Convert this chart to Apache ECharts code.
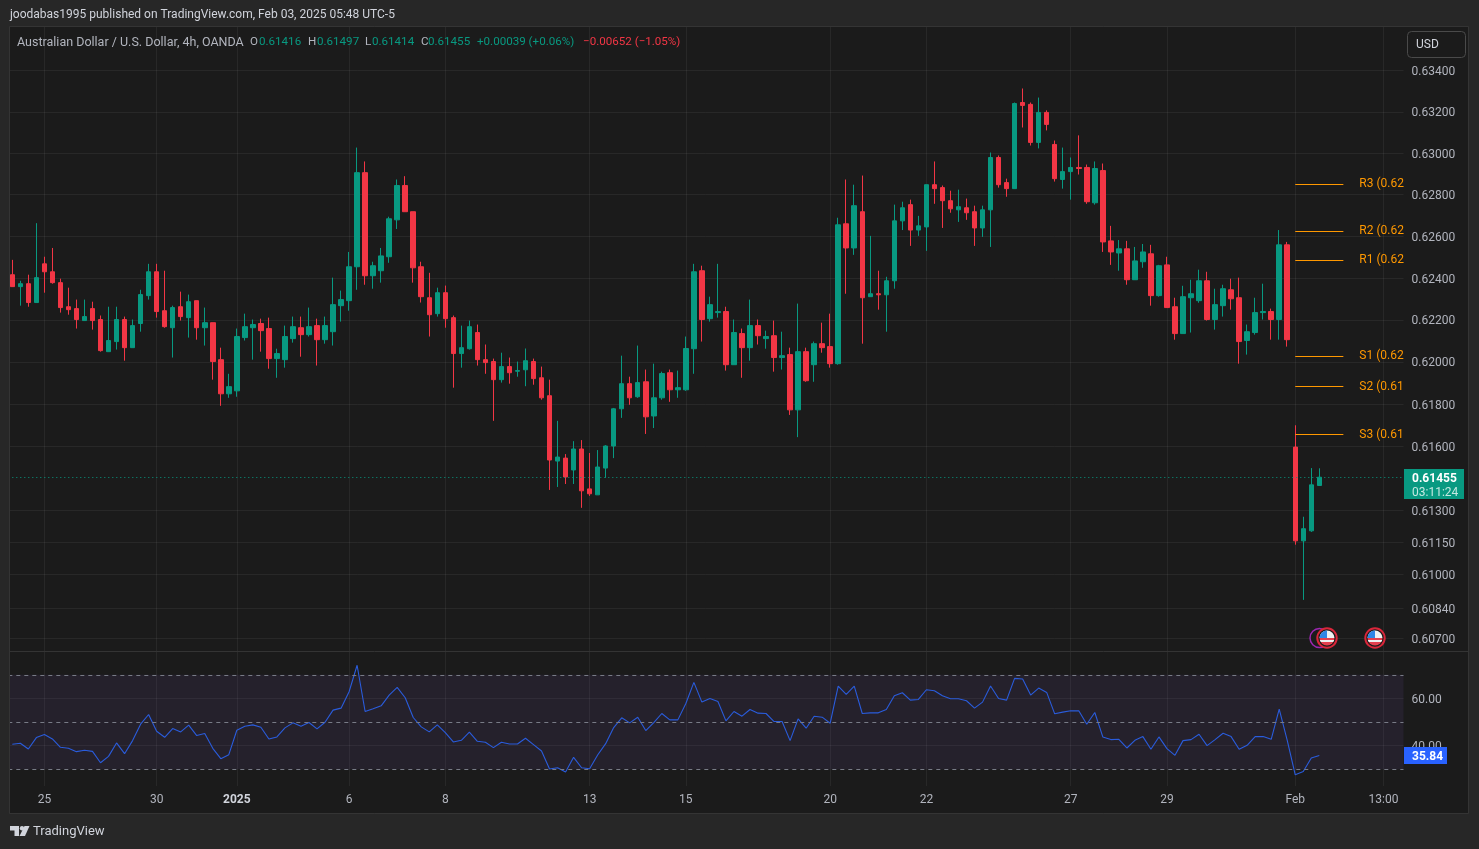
<!DOCTYPE html>
<html>
<head>
<meta charset="utf-8">
<title>AUD/USD 4h</title>
<script src="https://cdn.jsdelivr.net/npm/echarts@6/dist/echarts.min.js"></script>
<style>
html,body{margin:0;padding:0;background:#272727;overflow:hidden}
#chart{width:1479px;height:849px}
</style>
</head>
<body>
<div id="chart"></div>
<script>
// candles
var openPrices = [.62416,.62359,.62373,.62283,.62468,.62430,.62378,.62263,.62254,.62197,.62254,.62202,.62049,.62097,.62202,.62068,.62183,.62316,.62430,.62244,.62163,.62263,.62211,.62292,.62163,.62187,.62011,.61849,.61863,.62116,.62163,.62183,.62159,.62016,.62011,.62111,.62163,.62130,.62173,.62106,.62144,.62268,.62292,.62454,.62906,.62411,.62435,.62502,.62679,.62844,.62718,.62454,.62306,.62230,.62330,.62211,.62040,.62063,.62140,.62011,.62002,.61916,.61978,.61956,.61963,.62002,.61925,.61840,.61531,.61545,.61489,.61588,.61400,.61372,.61498,.61602,.61778,.61897,.61835,.61906,.61744,.61830,.61949,.61868,.61868,.62063,.62435,.62206,.62235,.62240,.61987,.62135,.62068,.62173,.62111,.62125,.62021,.62035,.61773,.62049,.61987,.62087,.62073,.61992,.62660,.62544,.62718,.62311,.62325,.62320,.62387,.62674,.62752,.62630,.62645,.62848,.62834,.62771,.62727,.62737,.62718,.62640,.62727,.62979,.62858,.62829,.63245,.63236,.63052,.63197,.63042,.62873,.62911,.62931,.62931,.62761,.62916,.62578,.62520,.62540,.62392,.62478,.62516,.62316,.62463,.62263,.62135,.62306,.62292,.62387,.62202,.62268,.62344,.62306,.62102,.62140,.62235,.62240,.62202,.62559,.61597,.61156,.61203,.61416];
var closePrices = [.62359,.62373,.62283,.62402,.62430,.62378,.62259,.62249,.62202,.62216,.62197,.62054,.62102,.62202,.62068,.62173,.62321,.62430,.62240,.62168,.62259,.62216,.62287,.62163,.62187,.62002,.61849,.61883,.62121,.62168,.62178,.62149,.62016,.62040,.62121,.62168,.62130,.62168,.62106,.62173,.62273,.62297,.62454,.62906,.62411,.62459,.62506,.62684,.62844,.62718,.62449,.62311,.62225,.62330,.62206,.62040,.62068,.62168,.62011,.61997,.61916,.61978,.61949,.61959,.62006,.61921,.61830,.61536,.61550,.61456,.61588,.61391,.61377,.61503,.61602,.61778,.61897,.61830,.61902,.61740,.61830,.61945,.61868,.61878,.62064,.62430,.62202,.62273,.62240,.61987,.62140,.62068,.62173,.62125,.62121,.62021,.62030,.61773,.62049,.61911,.62087,.62068,.61992,.62655,.62544,.62747,.62306,.62325,.62320,.62387,.62674,.62737,.62630,.62650,.62848,.62829,.62771,.62732,.62742,.62713,.62640,.62727,.62979,.62848,.62829,.63240,.63231,.63052,.63197,.63139,.62877,.62911,.62931,.62926,.62766,.62926,.62573,.62525,.62540,.62392,.62482,.62525,.62316,.62459,.62259,.62135,.62311,.62325,.62387,.62202,.62273,.62349,.62301,.62097,.62144,.62235,.62240,.62202,.62559,.62106,.61156,.61213,.61419,.61455];
var lowPrices = [.62359,.62268,.62263,.62283,.62330,.62373,.62235,.62225,.62159,.62197,.62154,.62049,.62049,.62059,.62006,.62068,.62144,.62297,.62211,.62163,.62021,.62197,.62116,.62106,.62078,.61916,.61792,.61830,.61835,.62102,.62011,.62049,.61968,.61925,.61973,.62092,.62025,.62121,.61983,.62087,.62078,.62192,.62244,.62344,.62368,.62349,.62378,.62473,.62635,.62718,.62378,.62283,.62121,.62216,.62163,.61878,.61973,.62059,.61983,.61944,.61721,.61902,.61897,.61930,.61885,.61892,.61821,.61395,.61409,.61423,.61423,.61311,.61367,.61372,.61452,.61545,.61735,.61797,.61830,.61659,.61687,.61821,.61811,.61830,.61863,.61944,.62097,.62192,.62211,.61959,.61987,.61925,.62006,.62083,.62063,.61954,.61964,.61749,.61644,.61906,.61906,.62044,.61973,.61987,.62325,.62511,.62087,.62311,.62249,.62144,.62349,.62630,.62554,.62602,.62530,.62756,.62640,.62713,.62669,.62679,.62554,.62597,.62549,.62834,.62790,.62829,.63124,.63037,.63023,.63110,.62863,.62829,.62776,.62897,.62756,.62752,.62525,.62463,.62435,.62368,.62392,.62449,.62268,.62311,.62259,.62106,.62135,.62140,.62282,.62197,.62154,.62216,.62249,.61992,.62035,.62130,.62202,.62106,.62106,.62073,.61138,.60880,.61198,.61414];
var highPrices = [.62487,.62387,.62416,.62663,.62502,.62544,.62397,.62354,.62297,.62297,.62287,.62221,.62263,.62263,.62216,.62202,.62344,.62468,.62468,.62435,.62268,.62335,.62321,.62292,.62259,.62187,.62068,.61944,.62159,.62230,.62202,.62206,.62211,.62063,.62173,.62216,.62216,.62259,.62206,.62216,.62402,.62340,.62525,.63027,.62960,.62478,.62544,.62694,.62873,.62889,.62718,.62478,.62425,.62354,.62364,.62221,.62173,.62197,.62178,.62083,.62016,.62044,.62021,.62002,.62064,.62016,.61978,.61916,.61721,.61564,.61625,.61630,.61569,.61583,.61606,.61782,.62030,.61930,.62078,.61964,.61992,.61954,.61964,.61959,.62121,.62468,.62459,.62311,.62468,.62263,.62202,.62159,.62297,.62202,.62149,.62197,.62144,.62068,.62278,.62068,.62097,.62187,.62230,.62689,.62873,.62848,.62892,.62602,.62435,.62406,.62752,.62766,.62776,.62698,.62848,.62960,.62844,.62819,.62824,.62781,.62747,.62747,.63003,.62989,.62877,.63245,.63313,.63245,.63269,.63207,.63061,.63027,.62979,.63086,.62945,.62960,.62950,.62650,.62582,.62578,.62549,.62563,.62559,.62463,.62502,.62306,.62363,.62392,.62440,.62430,.62349,.62368,.62397,.62402,.62178,.62306,.62373,.62254,.62630,.62573,.61700,.61269,.61498,.61497];
var rsiValues = [40.57,41.0,38.58,43.41,44.68,42.84,39.29,38.87,37.45,38.02,37.59,32.77,35.46,41.14,36.6,42.13,49.08,53.19,46.1,43.55,47.24,45.82,48.66,44.26,45.11,38.87,34.47,36.17,46.53,48.23,48.8,47.8,42.84,43.69,47.52,49.65,48.23,49.79,47.09,49.93,55.04,55.89,62.84,74.05,54.47,55.61,56.88,61.42,64.68,60.29,51.92,47.95,45.82,48.8,45.53,41.56,42.27,45.68,41.85,41.42,39.15,41.42,40.71,40.71,43.12,40.43,37.73,30.07,30.64,28.8,35.04,30.64,30.22,36.03,40.85,47.66,51.78,49.65,52.06,46.39,49.79,53.62,50.92,50.92,57.87,66.81,58.44,60.0,58.73,50.5,54.47,52.48,55.32,53.76,53.62,50.22,50.22,42.13,51.35,47.38,52.48,52.06,49.51,65.25,61.7,65.25,53.62,53.9,53.9,55.32,61.14,62.41,59.29,59.58,63.69,63.27,61.14,59.86,59.86,59.01,55.89,58.44,65.25,60.0,59.29,68.51,68.23,61.42,64.4,62.56,53.48,54.19,54.75,54.75,49.08,54.05,43.69,42.56,42.7,39.01,42.27,43.83,38.44,43.69,38.73,35.89,42.13,42.56,44.83,40.0,42.56,45.25,43.83,38.44,40.14,43.83,43.83,42.7,55.46,42.27,27.66,29.08,34.75,35.84];

var priceTicks = [0.634,0.632,0.630,0.628,0.626,0.624,0.622,0.620,0.618,0.616,0.613,0.6115,0.610,0.6084,0.607];
var rsiTicks = [60,40];
var rsiLevels = [70,50,30];
var timeTickIndex = [4,18,28,42,54,72,84,102,114,132,144,160,171];
var timeTickLabels = ['25','30','2025','6','8','13','15','20','22','27','29','Feb','13:00'];
var pivotNames = ['R3 (0.62','R2 (0.62','R1 (0.62','S1 (0.62','S2 (0.61','S3 (0.61'];
var pivotPrices = [0.62852,0.62624,0.62486,0.62028,0.61883,0.61656];
var lastPrice = 0.61455;
var lastRsi = 35.84;
var barCount = 174;   // candles plus the empty space on the right

var UP = '#089981', DOWN = '#f23645', GRID = 'rgba(255,255,255,0.06)', TXT = '#b2b5be', FONT = 'Roboto';

// chart is on a log price scale, so the axis runs on ln(price)
var categories = [];
for (var i = 0; i < barCount; i++) categories.push('');
timeTickIndex.forEach(function (idx, k) { categories[idx] = timeTickLabels[k]; });

var candleData = openPrices.map(function (o, i) {
    return [Math.log(o), Math.log(closePrices[i]), Math.log(lowPrices[i]), Math.log(highPrices[i])];
});

var pivotLines = pivotPrices.map(function (p, k) {
    return [
        {coord: [160, Math.log(p)], name: pivotNames[k]},
        {coord: [166, Math.log(p)]}
    ];
});

var myChart = echarts.init(document.getElementById('chart'), null, {renderer: 'canvas'});

function headerText(x, text, color, size) {
    return {type: 'text', x: x, y: 42.5, z: 110, silent: true,
        style: {text: text, fill: color, font: (size || 11.6) + 'px ' + FONT, verticalAlign: 'middle'}};
}

function flagIcon(cx, cy) {
    var stripes = new echarts.graphic.LinearGradient(0, 0, 0, 1, [
        {offset: 0, color: '#f0f0f0'}, {offset: 0.5, color: '#f0f0f0'},
        {offset: 0.5, color: '#e5404e'}, {offset: 0.64, color: '#e5404e'},
        {offset: 0.64, color: '#f0f0f0'}, {offset: 0.76, color: '#f0f0f0'},
        {offset: 0.76, color: '#e5404e'}, {offset: 1, color: '#e5404e'}
    ]);
    return [
        {type: 'circle', z: 20, silent: true, shape: {cx: cx, cy: cy, r: 9.7}, style: {fill: '#1b1b1b', stroke: '#d9263a', lineWidth: 2}},
        {type: 'circle', z: 21, silent: true, shape: {cx: cx, cy: cy, r: 7.5}, style: {fill: stripes}},
        {type: 'sector', z: 22, silent: true, shape: {cx: cx, cy: cy, r: 7.5, r0: 0, startAngle: Math.PI, endAngle: Math.PI * 1.5}, style: {fill: '#2f86e6'}}
    ];
}

var graphics = [
    // frame around the chart
    {type: 'rect', z: 100, silent: true, shape: {x: 0, y: 0, width: 10, height: 849}, style: {fill: '#272727'}},
    {type: 'rect', z: 100, silent: true, shape: {x: 0, y: 0, width: 1479, height: 27}, style: {fill: '#272727'}},
    {type: 'rect', z: 100, silent: true, shape: {x: 0, y: 813, width: 1479, height: 36}, style: {fill: '#272727'}},
    {type: 'rect', z: 100, silent: true, shape: {x: 1468, y: 0, width: 11, height: 849}, style: {fill: '#272727'}},
    {type: 'rect', z: 101, silent: true, shape: {x: 9.5, y: 26.5, width: 1459, height: 787}, style: {fill: 'none', stroke: '#343434', lineWidth: 1}},
    {type: 'line', z: 101, silent: true, shape: {x1: 10, y1: 651.5, x2: 1468, y2: 651.5}, style: {stroke: '#343434', lineWidth: 1}},

    {type: 'text', x: 10, y: 15, z: 110, silent: true, style: {text: 'joodabas1995 published on TradingView.com, Feb 03, 2025 05:48 UTC-5', fill: '#d1d4dc', font: '12px ' + FONT, verticalAlign: 'middle'}},
    headerText(17, 'Australian Dollar / U.S. Dollar, 4h, OANDA', '#b2b5be', 12.5),
    headerText(250, 'O', '#b2b5be'), headerText(259, '0.61416', UP),
    headerText(308, 'H', '#b2b5be'), headerText(317, '0.61497', UP),
    headerText(365, 'L', '#b2b5be'), headerText(372, '0.61414', UP),
    headerText(421, 'C', '#b2b5be'), headerText(428, '0.61455', UP),
    headerText(477, '+0.00039 (+0.06%)', UP),
    headerText(583, '\u22120.00652 (\u22121.05%)', DOWN),

    // currency button
    {type: 'rect', z: 110, silent: true, shape: {x: 1407.5, y: 31.5, width: 58, height: 26, r: 4}, style: {fill: '#1b1b1b', stroke: '#4a4a4a', lineWidth: 1}},
    {type: 'text', x: 1416, y: 45, z: 111, silent: true, style: {text: 'USD', fill: '#d1d4dc', font: '12px ' + FONT, verticalAlign: 'middle'}},

    // last price tag
    {type: 'rect', z: 110, silent: true, shape: {x: 1404, y: 469, width: 60, height: 30}, style: {fill: UP}},
    {type: 'text', x: 1412, y: 478.5, z: 111, silent: true, style: {text: '0.61455', fill: '#ffffff', font: 'bold 12px ' + FONT, verticalAlign: 'middle'}},
    {type: 'text', x: 1412, y: 492.5, z: 111, silent: true, style: {text: '03:11:24', fill: '#c4e8e1', font: '12px ' + FONT, verticalAlign: 'middle'}},

    // rsi tag
    {type: 'rect', z: 110, silent: true, shape: {x: 1404, y: 747, width: 43, height: 17}, style: {fill: '#2962ff'}},
    {type: 'text', x: 1412, y: 756.5, z: 111, silent: true, style: {text: String(lastRsi), fill: '#ffffff', font: 'bold 12px ' + FONT, verticalAlign: 'middle'}},

    // event markers
    {type: 'circle', z: 19, silent: true, shape: {cx: 1319.5, cy: 638, r: 9.5}, style: {fill: '#1b1b1b', stroke: '#9c27b0', lineWidth: 1.5}}
].concat(flagIcon(1327, 638), flagIcon(1375, 638), [
    // logo
    {type: 'polygon', z: 110, silent: true, shape: {points: [[10, 826], [19, 826], [19, 836], [14.5, 836], [14.5, 830.5], [10, 830.5]]}, style: {fill: '#d1d4dc'}},
    {type: 'circle', z: 110, silent: true, shape: {cx: 22, cy: 828.2, r: 2.2}, style: {fill: '#d1d4dc'}},
    {type: 'polygon', z: 110, silent: true, shape: {points: [[24.5, 826], [29.5, 826], [25, 836], [19.5, 836]]}, style: {fill: '#d1d4dc'}},
    {type: 'text', x: 33, y: 832, z: 110, silent: true, style: {text: 'TradingView', fill: '#d1d4dc', font: '13px ' + FONT, verticalAlign: 'middle'}}
]);

var option = {
    animation: false,
    backgroundColor: '#1b1b1b',
    textStyle: {fontFamily: FONT},
    graphic: graphics,
    grid: [
        {left: 8.3, right: 75.5, top: 27, height: 624},
        {left: 8.3, right: 75.5, top: 651, height: 135}
    ],
    xAxis: [
        {
            type: 'category', gridIndex: 0, data: categories, boundaryGap: true,
            axisLine: {show: false},
            axisTick: {show: false, alignWithLabel: true, customValues: timeTickIndex},
            axisLabel: {show: false, customValues: timeTickIndex},
            splitLine: {show: true, alignWithLabel: true, lineStyle: {color: GRID, width: 1}}
        },
        {
            type: 'category', gridIndex: 1, data: categories, boundaryGap: true,
            axisLine: {show: false},
            axisTick: {show: false, alignWithLabel: true, customValues: timeTickIndex},
            axisLabel: {
                customValues: timeTickIndex, color: TXT, fontSize: 12, margin: 8, fontFamily: FONT,
                formatter: function (v) { return v === '2025' ? '{b|2025}' : v; },
                rich: {b: {fontWeight: 'bold', color: '#d1d4dc', fontSize: 12, fontFamily: FONT}}
            },
            splitLine: {show: true, alignWithLabel: true, lineStyle: {color: GRID, width: 1}}
        }
    ],
    yAxis: [
        {
            type: 'value', gridIndex: 0, position: 'right',
            min: Math.log(0.60642), max: Math.log(0.63612),
            axisLine: {show: false},
            axisTick: {show: false, customValues: priceTicks.map(Math.log)},
            axisLabel: {
                customValues: priceTicks.map(Math.log), color: TXT, fontSize: 12, margin: 8, fontFamily: FONT,
                verticalAlign: 'top', lineHeight: 3,
                formatter: function (v) { return Math.exp(v).toFixed(5); }
            },
            splitLine: {show: true, lineStyle: {color: GRID, width: 1}}
        },
        {
            type: 'value', gridIndex: 1, position: 'right', min: 22.9, max: 80.1,
            axisLine: {show: false},
            axisTick: {show: false, customValues: rsiTicks},
            axisLabel: {
                customValues: rsiTicks, color: TXT, fontSize: 12, margin: 8, fontFamily: FONT,
                verticalAlign: 'top', lineHeight: 3,
                formatter: function (v) { return v.toFixed(2); }
            },
            splitLine: {show: true, lineStyle: {color: GRID, width: 1}}
        }
    ],
    series: [
        {
            type: 'candlestick', xAxisIndex: 0, yAxisIndex: 0, data: candleData, barWidth: 5,
            itemStyle: {color: UP, color0: DOWN, borderColor: UP, borderColor0: DOWN, borderWidth: 1},
            markLine: {
                silent: true, symbol: 'none', animation: false, precision: 8,
                data: [
                    {yAxis: Math.log(lastPrice), lineStyle: {color: UP, type: [1, 3], width: 1}, label: {show: false}}
                ].concat(pivotLines),
                lineStyle: {color: '#ff9800', type: 'solid', width: 1},
                label: {
                    show: true, position: 'end', distance: [16, 0], color: '#ff9800', fontSize: 12, fontFamily: FONT,
                    formatter: function (p) { return p.name; }
                }
            }
        },
        {
            type: 'line', xAxisIndex: 1, yAxisIndex: 1, data: rsiValues, symbol: 'none',
            lineStyle: {color: '#2a5cdc', width: 1.1},
            markArea: {
                silent: true,
                itemStyle: {color: 'rgba(126,87,194,0.1)'},
                data: [[{yAxis: 30}, {yAxis: 70}]]
            },
            markLine: {
                silent: true, symbol: 'none', animation: false,
                lineStyle: {color: '#787b86', type: [4, 4], width: 1},
                label: {show: false},
                data: rsiLevels.map(function (v) { return {yAxis: v}; })
            }
        }
    ]
};
myChart.setOption(option);
</script>
</body>
</html>
